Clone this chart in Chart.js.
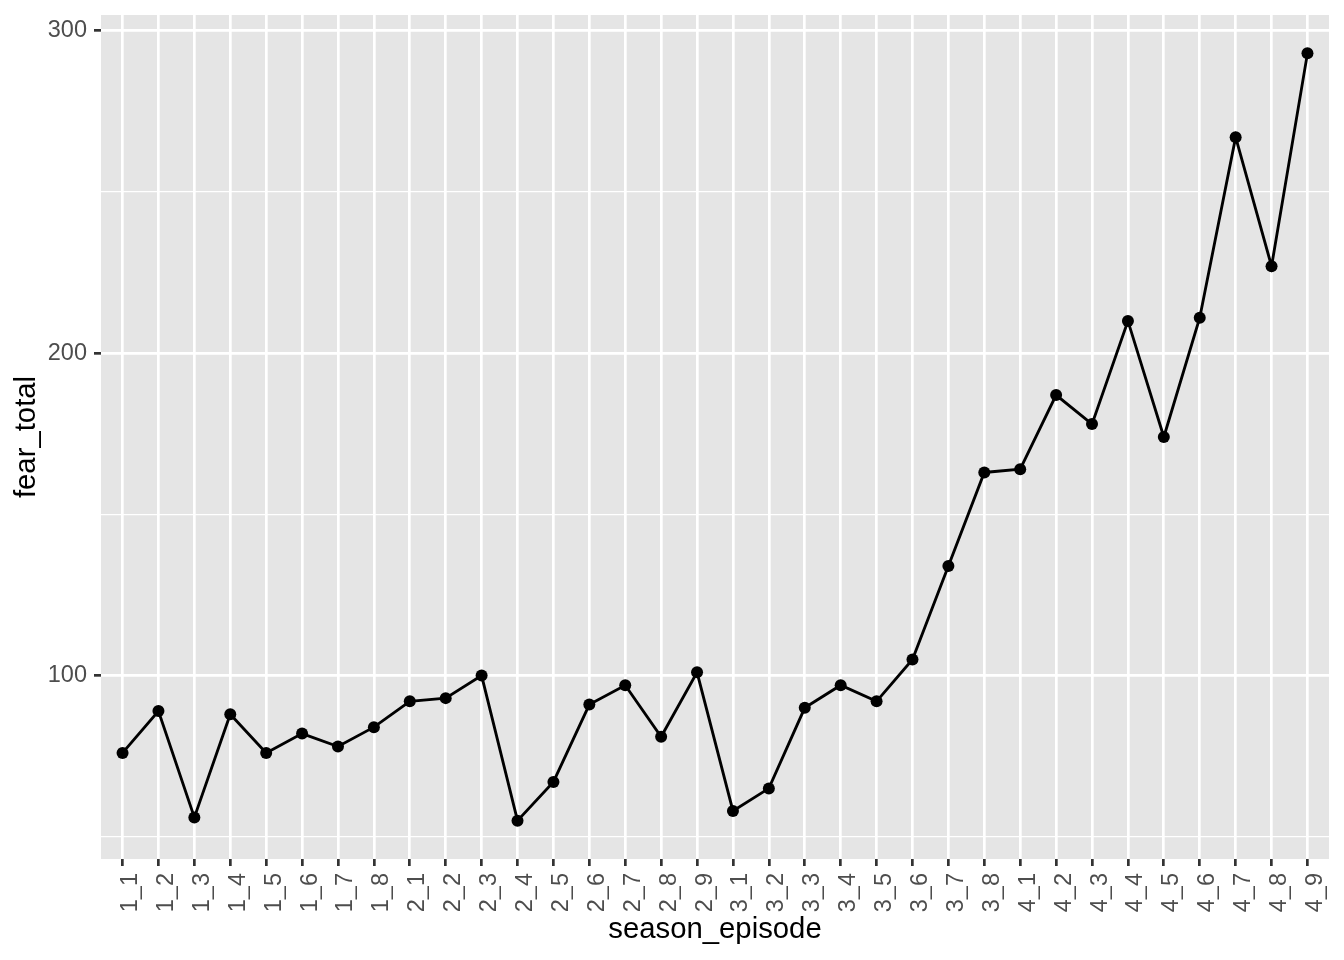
<!DOCTYPE html>
<html>
<head>
<meta charset="utf-8">
<script src="https://cdn.jsdelivr.net/npm/chart.js@4.4.1/dist/chart.umd.min.js"></script>
<style>
html,body{margin:0;padding:0;background:#fff;}
#wrap{width:1344px;height:960px;position:relative;}
</style>
</head>
<body>
<div id="wrap"><canvas id="c" width="1344" height="960"></canvas></div>
<script>
const categories = ["1_1","1_2","1_3","1_4","1_5","1_6","1_7","1_8",
  "2_1","2_2","2_3","2_4","2_5","2_6","2_7","2_8","2_9",
  "3_1","3_2","3_3","3_4","3_5","3_6","3_7","3_8",
  "4_1","4_2","4_3","4_4","4_5","4_6","4_7","4_8","4_9"];
const fearTotal = [76,89,56,88,76,82,78,84,
  92,93,100,55,67,91,97,81,101,
  58,65,90,97,92,105,134,163,
  164,187,178,210,174,211,267,227,293];
const yTicks = [50,100,150,200,250,300];
const yMajor = [100,200,300];

const panelBg = {
  id:'panelBg',
  beforeDraw(chart){
    const {ctx, chartArea:a} = chart;
    ctx.save();
    ctx.fillStyle = '#E5E5E5';
    ctx.fillRect(a.left, a.top, a.right - a.left, a.bottom - a.top);
    ctx.restore();
  }
};

const tickFont = {family:'"Liberation Sans", Arial, sans-serif', size:23.5};
const titleFont = {family:'"Liberation Sans", Arial, sans-serif', size:29.3};

new Chart(document.getElementById('c'), {
  type:'line',
  data:{
    datasets:[{
      data: categories.map((c,i)=>({x:i, y:fearTotal[i]})),
      borderColor:'#000000',
      backgroundColor:'#000000',
      borderWidth:2.85,
      pointRadius:6,
      pointBorderWidth:0,
      pointBackgroundColor:'#000000',
      tension:0,
      fill:false
    }]
  },
  options:{
    responsive:false,
    animation:false,
    events:[],
    layout:{padding:{top:15,right:15,left:0,bottom:0}},
    plugins:{legend:{display:false}, tooltip:{enabled:false}},
    scales:{
      x:{
        type:'linear',
        min:-0.6,
        max:categories.length - 1 + 0.6,
        afterBuildTicks(scale){ scale.ticks = categories.map((c,i)=>({value:i})); },
        afterFit(scale){ scale.height = 101; scale.paddingLeft = 0; scale.paddingRight = 0; },
        border:{display:false},
        grid:{color:'#FFFFFF', lineWidth:2.7, tickColor:'#333333', tickWidth:2.7, tickLength:7, drawTicks:true},
        ticks:{
          autoSkip:false, minRotation:90, maxRotation:90, padding:7, labelOffset:8,
          color:'#4D4D4D', font:tickFont,
          callback:(v)=>categories[v]
        },
        title:{display:true, text:'season_episode', color:'#000000', font:titleFont, padding:{top:0,bottom:13}}
      },
      y:{
        type:'linear',
        min:43.1,
        max:304.9,
        afterBuildTicks(scale){ scale.ticks = yTicks.map(v=>({value:v})); },
        afterFit(scale){ scale.width = 101; scale.paddingTop = 0; scale.paddingBottom = 0; },
        border:{display:false},
        grid:{
          color:'#FFFFFF',
          lineWidth:(ctx)=> yMajor.includes(ctx.tick && ctx.tick.value) ? 2.7 : 1.35,
          tickColor:(ctx)=> yMajor.includes(ctx.tick && ctx.tick.value) ? '#333333' : 'rgba(0,0,0,0)',
          tickWidth:2.7, tickLength:7, drawTicks:true
        },
        ticks:{
          padding:7, color:'#4D4D4D', font:tickFont,
          callback:(v)=> yMajor.includes(v) ? String(v) : ''
        },
        title:{display:true, text:'fear_total', color:'#000000', font:titleFont, padding:{top:9,bottom:0}}
      }
    }
  },
  plugins:[panelBg]
});
</script>
</body>
</html>
